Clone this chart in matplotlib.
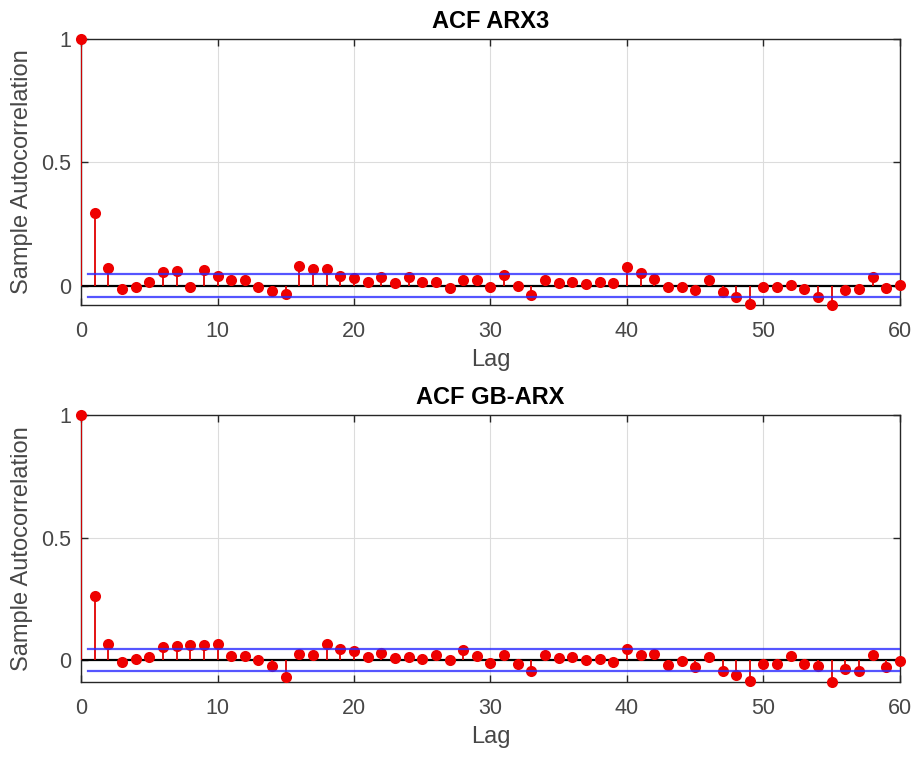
import numpy as np
import matplotlib
matplotlib.use("Agg")
import matplotlib.pyplot as plt

lags = np.arange(0, 61)

acf_arx3 = [1.000, 0.296, 0.070, -0.013, -0.005, 0.013, 0.054, 0.059, -0.005, 0.065,
            0.040, 0.021, 0.021, -0.005, -0.023, -0.034, 0.078, 0.067, 0.067, 0.040,
            0.031, 0.016, 0.036, 0.012, 0.036, 0.015, 0.015, -0.011, 0.024, 0.024,
            -0.004, 0.044, -0.001, -0.038, 0.024, 0.009, 0.016, 0.005, 0.016, 0.009,
            0.074, 0.051, 0.028, -0.007, -0.004, -0.019, 0.023, -0.026, -0.046, -0.073,
            -0.005, -0.007, 0.004, -0.016, -0.046, -0.079, -0.019, -0.013, 0.035, -0.012,
            0.001]

acf_gbarx = [1.000, 0.263, 0.068, -0.008, 0.006, 0.011, 0.054, 0.056, 0.060, 0.062,
             0.068, 0.019, 0.019, 0.000, -0.022, -0.069, 0.027, 0.022, 0.064, 0.044,
             0.039, 0.014, 0.030, 0.010, 0.014, 0.006, 0.023, -0.001, 0.041, 0.019,
             -0.012, 0.020, -0.017, -0.046, 0.023, 0.010, 0.014, -0.001, 0.006, -0.008,
             0.046, 0.023, 0.027, -0.020, -0.004, -0.028, 0.014, -0.046, -0.060, -0.084,
             -0.015, -0.015, 0.019, -0.015, -0.024, -0.089, -0.035, -0.045, 0.022, -0.028,
             -0.004]

bound = 0.045
titles = ["ACF ARX3", "ACF GB-ARX"]
xticks = [0, 10, 20, 30, 40, 50, 60]
yticks = [0, 0.5, 1]
yticklabels = ["0", "0.5", "1"]

plt.rcParams['font.family'] = ['Liberation Sans', 'DejaVu Sans']
TXT = '#474747'

fig = plt.figure(figsize=(9.2, 7.6), dpi=100)
W, H = 920, 760
rects = [(81, 39, 900, 305), (81, 415, 900, 682)]

for (x0, y0, x1, y1), vals, title in zip(rects, [acf_arx3, acf_gbarx], titles):
    ax = fig.add_axes([x0 / W, 1 - y1 / H, (x1 - x0) / W, (y1 - y0) / H])
    vals = np.asarray(vals)
    ax.set_xlim(lags[0], lags[-1])
    ax.set_ylim(min(vals.min(), -bound), 1)
    ax.grid(True, color='#dcdcdc', linewidth=0.8, zorder=0)
    ax.set_axisbelow(True)
    ax.axhline(0, color='black', linewidth=1.6, zorder=2)
    ax.vlines(lags, 0, vals, colors='#e00000', linewidth=1.3, zorder=3)
    ax.plot(lags, vals, 'o', color='#ee0000', markersize=8, markeredgewidth=0,
            zorder=4, clip_on=False)
    blo, bhi = lags[0] + 0.5, lags[-1] + 0.5
    ax.plot([blo, bhi], [bound, bound], color='#2a2aff', linewidth=1.6, zorder=5, alpha=0.8)
    ax.plot([blo, bhi], [-bound, -bound], color='#2a2aff', linewidth=1.6, zorder=5, alpha=0.8)
    ax.set_xticks(xticks)
    ax.set_yticks(yticks)
    ax.set_yticklabels(yticklabels)
    ax.tick_params(direction='in', top=True, right=True, length=5, width=1,
                   labelsize=15.5, labelcolor=TXT, color='#262626')
    ax.tick_params(axis='x', pad=11.5)
    ax.tick_params(axis='y', pad=7)
    for s in ax.spines.values():
        s.set_color('#262626')
        s.set_linewidth(1.0)
    ax.set_xlabel("Lag", fontsize=17, color=TXT, labelpad=5)
    ax.set_ylabel("Sample Autocorrelation", fontsize=17, color=TXT, labelpad=6)
    ax.set_title(title, fontsize=17, fontweight='bold', color='black', pad=8)

fig.savefig("out.png", dpi=100)
